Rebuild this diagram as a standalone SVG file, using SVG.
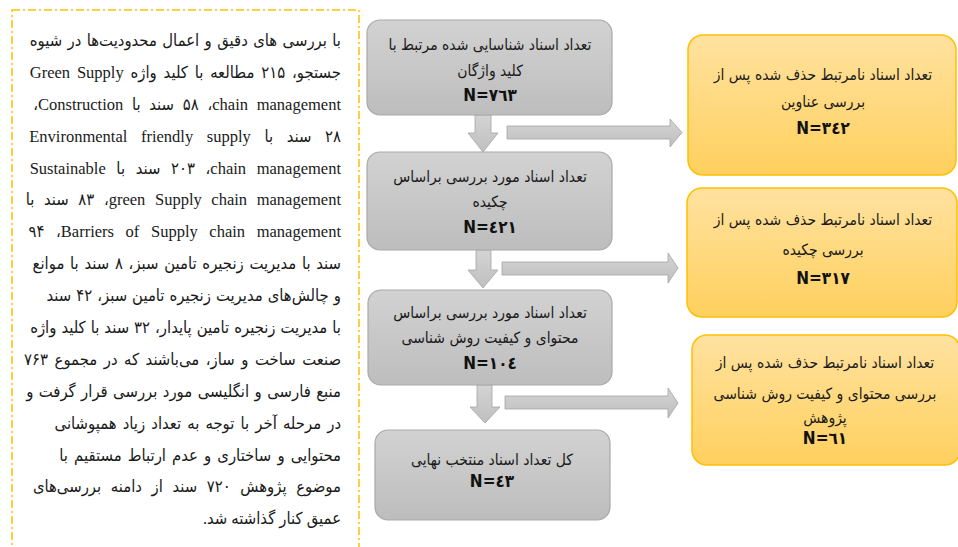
<svg xmlns="http://www.w3.org/2000/svg" width="958" height="547" viewBox="0 0 958 547">
<defs>
<linearGradient id="gray" x1="0" y1="0" x2="0" y2="1">
<stop offset="0" stop-color="#d2d2d2"/>
<stop offset="1" stop-color="#bdbdbd"/>
</linearGradient>
<linearGradient id="orange" x1="0" y1="0" x2="0" y2="1">
<stop offset="0" stop-color="#ffe2a0"/>
<stop offset="1" stop-color="#ffd05e"/>
</linearGradient>
<linearGradient id="arr" x1="0" y1="0" x2="0" y2="1">
<stop offset="0" stop-color="#d4d4d4"/>
<stop offset="1" stop-color="#bfbfbf"/>
</linearGradient>
<style>
.para{font-family:"Liberation Serif","DejaVu Sans Condensed","DejaVu Sans",serif;font-size:16.5px;fill:#1a1a1a;direction:rtl;unicode-bidi:embed;}
.box{font-family:"DejaVu Sans Condensed","DejaVu Sans",sans-serif;font-size:15.5px;fill:#1a1a1a;text-anchor:middle;direction:rtl;unicode-bidi:embed;}
.num{font-family:"DejaVu Sans Condensed","DejaVu Sans",sans-serif;font-size:17px;font-weight:bold;fill:#111;text-anchor:middle;direction:ltr;}
.gbox{fill:url(#gray);stroke:#a9a9a9;stroke-width:1.2;}
.obox{fill:url(#orange);stroke:#ffc000;stroke-width:1.5;}
.arrow{fill:url(#arr);stroke:#a3a3a3;stroke-width:0.8;}
</style>
</defs>
<rect width="958" height="547" fill="#ffffff"/>

<g id="description">
<rect x="12" y="10" width="347" height="550" fill="none" stroke="#ffc000" stroke-width="1.5" stroke-dasharray="8 3 2 3"/>
<text class="para" x="341" y="46" style="word-spacing:1.3px">با بررسی های دقیق و اعمال محدودیت‌ها در شیوه</text>
<text class="para" x="341" y="78" style="word-spacing:2.7px">جستجو، ۲۱۵ مطالعه با کلید واژه  Green Supply</text>
<text class="para" x="341" y="110" style="word-spacing:4.6px">chain management،&#x200F; ۵۸ سند با Construction،</text>
<text class="para" x="341" y="142" style="word-spacing:9.5px">۲۸ سند با  Environmental friendly supply</text>
<text class="para" x="341" y="174" style="word-spacing:6.5px">chain management،&#x200F; ۲۰۳ سند با  Sustainable</text>
<text class="para" x="341" y="205" style="word-spacing:5.5px">green Supply chain management،&#x200F; ۸۳ سند با</text>
<text class="para" x="341" y="237" style="word-spacing:7.5px">Barriers of Supply chain management،&#x200F; ۹۴</text>
<text class="para" x="341" y="269" style="word-spacing:1.6px">سند با مدیریت زنجیره تامین سبز، ۸ سند با موانع</text>
<text class="para" x="341" y="301" style="word-spacing:0.9px">و چالش‌های مدیریت زنجیره تامین سبز، ۴۲ سند</text>
<text class="para" x="341" y="333" style="word-spacing:0.9px">با مدیریت زنجیره تامین پایدار، ۳۲ سند با کلید واژه</text>
<text class="para" x="341" y="365" style="word-spacing:2.4px">صنعت ساخت و ساز، می‌باشند که در مجموع ۷۶۳</text>
<text class="para" x="341" y="397" style="word-spacing:1.3px">منبع فارسی و انگلیسی مورد بررسی قرار گرفت و</text>
<text class="para" x="341" y="429" style="word-spacing:2px">در مرحله آخر با توجه به تعداد زیاد همپوشانی</text>
<text class="para" x="341" y="461" style="word-spacing:2px">محتوایی و ساختاری و عدم ارتباط مستقیم با</text>
<text class="para" x="341" y="492" style="word-spacing:5.5px">موضوع پژوهش ۷۲۰ سند از دامنه بررسی‌های</text>
<text class="para" x="341" y="524">عمیق کنار گذاشته شد.</text>
</g>

<g id="connectors">
<path class="arrow" d="M475,115 L491,115 L491,133 L498,133 L483,152 L468,133 L475,133 Z"/>
<path class="arrow" d="M476,250 L491,250 L491,270 L498,270 L483,288 L468,270 L476,270 Z"/>
<path class="arrow" d="M477,385 L492,385 L492,407 L500,407 L485,423 L470,407 L477,407 Z"/>
<path class="arrow" d="M507,126 L670,126 L670,119 L682,132.5 L670,147 L670,139 L507,139 Z"/>
<path class="arrow" d="M502,262 L668,262 L668,253 L678,268 L668,283 L668,275 L502,275 Z"/>
<path class="arrow" d="M505,396 L668,396 L668,388 L678,403 L668,418 L668,409 L505,409 Z"/>
</g>

<g id="n1">
<rect class="gbox" x="367" y="20" width="245" height="95" rx="13"/>
<text class="box" x="490" y="50">تعداد اسناد شناسایی شده مرتبط با</text>
<text class="box" x="490" y="76">کلید واژگان</text>
<text class="num" x="490" y="101">N=۷٦۳</text>
</g>
<g id="n2">
<rect class="gbox" x="367" y="152" width="245" height="98" rx="13"/>
<text class="box" x="490" y="182">تعداد اسناد مورد بررسی براساس</text>
<text class="box" x="490" y="207">چکیده</text>
<text class="num" x="490" y="233">N=٤۲۱</text>
</g>
<g id="n3">
<rect class="gbox" x="368" y="290" width="244" height="95" rx="13"/>
<text class="box" x="490" y="318">تعداد اسناد مورد بررسی براساس</text>
<text class="box" x="490" y="343">محتوای و کیفیت روش شناسی</text>
<text class="num" x="490" y="369">N=۱۰٤</text>
</g>
<g id="n4">
<rect class="gbox" x="375" y="430" width="235" height="90" rx="13"/>
<text class="box" x="492" y="465">کل تعداد اسناد منتخب نهایی</text>
<text class="num" x="492" y="487">N=٤۳</text>
</g>

<g id="r1">
<rect class="obox" x="688" y="35" width="268" height="140" rx="15"/>
<text class="box" x="823" y="80">تعداد اسناد نامرتبط حذف شده پس از</text>
<text class="box" x="823" y="107">بررسی عناوین</text>
<text class="num" x="823" y="134">N=۳٤۲</text>
</g>
<g id="r2">
<rect class="obox" x="687" y="188" width="270" height="129" rx="15"/>
<text class="box" x="823" y="225">تعداد اسناد نامرتبط حذف شده پس از</text>
<text class="box" x="823" y="255">بررسی چکیده</text>
<text class="num" x="823" y="284">N=۳۱۷</text>
</g>
<g id="r3">
<rect class="obox" x="692" y="335" width="268" height="130" rx="15"/>
<text class="box" x="825" y="368">تعداد اسناد نامرتبط حذف شده پس از</text>
<text class="box" x="825" y="399">بررسی محتوای و کیفیت روش شناسی</text>
<text class="box" x="825" y="423">پژوهش</text>
<text class="num" x="825" y="444">N=٦۱</text>
</g>
</svg>
